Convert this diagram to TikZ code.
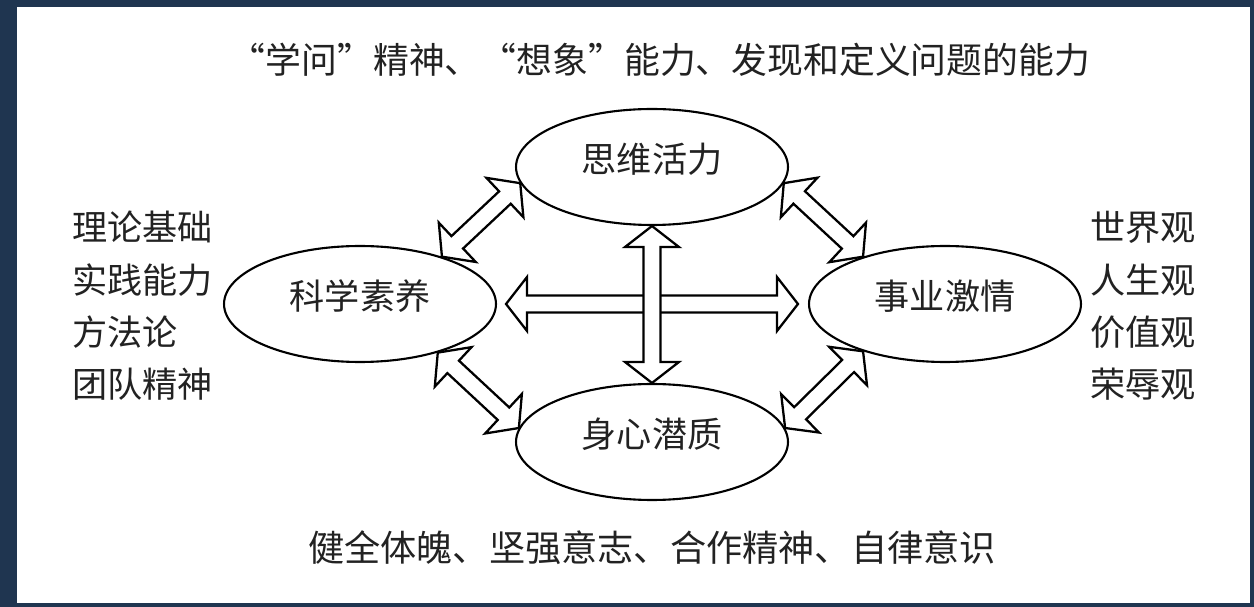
\documentclass[tikz,border=0pt]{standalone}
\usepackage{fontspec}
\setmainfont{Noto Sans CJK SC}
\usetikzlibrary{calc,shapes.geometric}
\definecolor{framecol}{RGB}{31,53,80}
\definecolor{txtcol}{RGB}{34,34,34}
\tikzset{
  oval/.style={ellipse, draw, line width=1.2pt, minimum width=5.44cm, minimum height=2.32cm, inner sep=0pt, text height=0.5cm, text depth=0.28cm, text=txtcol, font=\fontsize{20}{24}\selectfont},
  blockarr/.style={draw, fill=white, line width=1.3pt, line join=miter},
  words/.style={inner sep=0pt, text=txtcol, font=\fontsize{20}{29.8}\selectfont}
}
% double block arrow between two points
\newcommand{\dblarrow}[2]{%
  \draw[blockarr] (#1) -- ($(#1)!0.42cm!(#2)!0.54cm!90:(#2)$)
    -- ($(#1)!0.42cm!(#2)!0.17cm!90:(#2)$)
    -- ($(#2)!0.42cm!(#1)!0.17cm!-90:(#1)$)
    -- ($(#2)!0.42cm!(#1)!0.54cm!-90:(#1)$)
    -- (#2)
    -- ($(#2)!0.42cm!(#1)!0.54cm!90:(#1)$)
    -- ($(#2)!0.42cm!(#1)!0.17cm!90:(#1)$)
    -- ($(#1)!0.42cm!(#2)!0.17cm!-90:(#2)$)
    -- ($(#1)!0.42cm!(#2)!0.54cm!-90:(#2)$)
    -- cycle;}
\begin{document}
\begin{tikzpicture}[x=0.02cm, y=-0.02cm]
    % Khung
    \fill[framecol] (0,0) rectangle (1254,607);
    \fill[white] (17,7) rectangle (1250,603);

    % Bốn hình elip
    \node[oval] (think) at (652,167) {思维活力};
    \node[oval] (sci) at (360,304) {科学素养};
    \node[oval] (car) at (945,304) {事业激情};
    \node[oval] (body) at (652,442) {身心潜质};

    % Chữ xung quanh
    \node[words, font=\fontsize{20.4}{24}\selectfont] (top) at (660,60) {“学问”精神、“想象”能力、发现和定义问题的能力};
    \node[words, anchor=west, align=left] (lefttxt) at (72,306) {理论基础\\实践能力\\方法论\\团队精神};
    \node[words, anchor=west, align=left] (righttxt) at (1090,306) {世界观\\人生观\\价值观\\荣辱观};
    \node[words, font=\fontsize{20.6}{24}\selectfont] (bottom) at (652,548) {健全体魄、坚强意志、合作精神、自律意识};

    % Mũi tên hai chiều
    \coordinate (hl) at ($(sci.east)+(9,0)$);
    \coordinate (hr) at ($(car.west)+(-10,0)$);
    \dblarrow{hl}{hr}
    \dblarrow{think.south}{body.north}
    \dblarrow{sci.30}{think.187}
    \dblarrow{sci.-32}{body.174}
    \dblarrow{think.-7}{car.150}
    \dblarrow{body.6}{car.-150}
\end{tikzpicture}
\end{document}
